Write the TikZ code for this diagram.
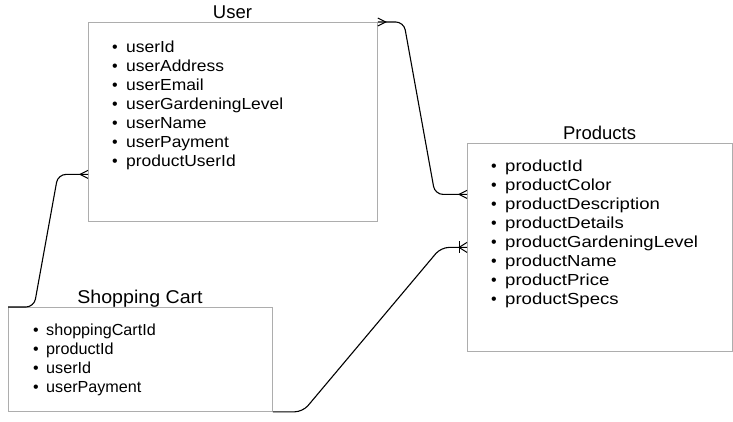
\documentclass[tikz,border=0pt]{standalone}
\usepackage{fontspec}
\setmainfont{Liberation Sans}
\newfontfamily\userfont{Liberation Sans}[FakeStretch=1.09]
\newfontfamily\prodfont{Liberation Sans}[FakeStretch=1.16]
\newfontfamily\cartfont{Liberation Sans}[FakeStretch=1.01]
\newfontfamily\carttitlefont{Liberation Sans}[FakeStretch=1.06]
\usetikzlibrary{calc}
\begin{document}
\begin{tikzpicture}[x=1pt,y=-1pt,
  entbox/.style={draw=black!32,line width=0.8pt,fill=white,inner sep=0pt,anchor=north west},
  enttitle/.style={font=\fontsize{18.5}{20}\selectfont,anchor=base,inner sep=0pt},
  itemtext/.style={font=\fontsize{16}{19}\selectfont,anchor=base west,inner sep=0pt},
  bullet/.style={font=\fontsize{16}{19}\selectfont,anchor=base,inner sep=0pt},
  conn/.style={draw=black,line width=1.1pt,rounded corners=8pt},
  foot/.style={draw=black,line width=1pt}]
\useasboundingbox[fill=white] (0,0) rectangle (733,421);
% boxes
\node[entbox,minimum width=289pt,minimum height=199pt] (user) at (88,22) {};
\node[entbox,minimum width=265pt,minimum height=208pt] (products) at (467,143) {};
\node[entbox,minimum width=264pt,minimum height=104pt] (cart) at (8,307) {};
% titles
\node[enttitle] (usertitle) at (232.5,18) {User};
\node[enttitle] (prodtitle) at (599.5,139) {Products};
\node[enttitle] (carttitle) at (140,303) {\carttitlefont Shopping Cart};
% items
\foreach \t [count=\i] in {userId,userAddress,userEmail,userGardeningLevel,userName,userPayment,productUserId}{
  \node[bullet] (ub\i) at (115,{52+19*(\i-1)}) {•};
  \node[itemtext] (ut\i) at (126,{52+19*(\i-1)}) {\userfont\t};
}
\foreach \t [count=\i] in {productId,productColor,productDescription,productDetails,productGardeningLevel,productName,productPrice,productSpecs}{
  \node[bullet] (pb\i) at (494,{171+19*(\i-1)}) {•};
  \node[itemtext] (pt\i) at (505,{171+19*(\i-1)}) {\prodfont\t};
}
\foreach \t [count=\i] in {shoppingCartId,productId,userId,userPayment}{
  \node[bullet] (cb\i) at (36,{335+19*(\i-1)}) {•};
  \node[itemtext] (ct\i) at (46,{335+19*(\i-1)}) {\cartfont\t};
}
% connector anchors
\coordinate (uR) at (user.north east);
\coordinate (pU) at ([yshift=53pt]products.west);
\coordinate (uL) at ([yshift=-52.5pt]user.west);
\coordinate (cTL) at (cart.north west);
\coordinate (cBR) at (cart.south east);
\coordinate (pC) at (products.west);
% connectors
\draw[conn] (uR) -- ($(uR)+(26,0)$) -- ($(pU)+(-32,0)$) -- (pU);
\draw[conn] (cTL) -- ($(cTL)+(26,0)$) -- ($(uL)+(-30,0)$) -- (uL);
\draw[conn] (cBR) -- ($(cBR)+(30,0)$) -- ($(pC)+(-26,0)$) -- (pC);
% crow's feet
\draw[foot] ($(uR)+(0,-4)$) -- ($(uR)+(8,0)$) -- ($(uR)+(0,4)$);
\draw[foot] ($(pU)+(0,-4)$) -- ($(pU)+(-8,0)$) -- ($(pU)+(0,4)$);
\draw[foot] ($(uL)+(0,-4)$) -- ($(uL)+(-8,0)$) -- ($(uL)+(0,4)$);
\draw[foot] ($(pC)+(0,-5)$) -- ($(pC)+(-8,0)$) -- ($(pC)+(0,5)$);
\draw[foot] ($(pC)+(-8,-6)$) -- ($(pC)+(-8,6)$);
\end{tikzpicture}
\end{document}
